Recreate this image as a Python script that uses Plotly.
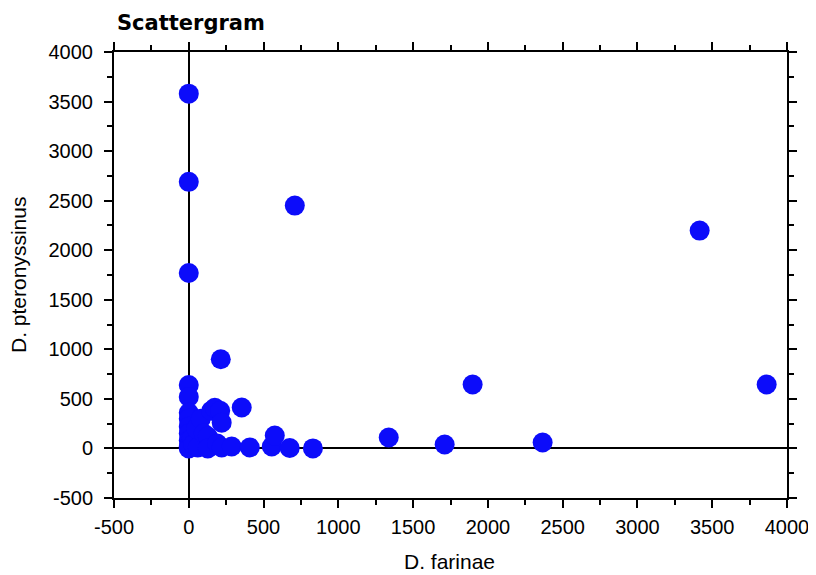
import plotly.graph_objects as go

d_farinae = [0, 0, 0, 0, 0, 0, 0, 0, 0, 0, 0, 0,
             20, 30, 50, 60, 80, 100, 127, 127, 150, 174, 190, 210, 220, 220,
             287, 354, 214, 408, 555, 575, 675, 830, 709, 1337, 1711, 2366,
             3416, 1898, 3864]
d_pteronyssinus = [3580, 2690, 1770, 640, 520, 360, 300, 220, 150, 80, 20, 0,
                   100, 40, 200, 10, 300, 150, 120, 0, 380, 410, 50, 380, 260, 10,
                   20, 413, 900, 10, 20, 130, 5, 0, 2450, 110, 40, 60,
                   2198, 645, 645]

tick_vals = [-500, 0, 500, 1000, 1500, 2000, 2500, 3000, 3500, 4000]
tick_text = [str(v) for v in tick_vals]
title_text = "Scattergram"
x_title = "D. farinae"
y_title = "D. pteronyssinus"

FONT = "Liberation Sans, Arial, sans-serif"

fig = go.Figure()
fig.add_trace(go.Scatter(
    x=d_farinae, y=d_pteronyssinus, mode="markers",
    marker=dict(size=20, color="rgb(12,12,250)", line=dict(width=0)),
    showlegend=False,
))

axis_common = dict(
    showgrid=False, automargin=False,
    zeroline=True, zerolinecolor="black", zerolinewidth=2,
    showline=True, linecolor="black", linewidth=2,
    mirror="allticks",
    ticks="outside", ticklen=8, tickwidth=2, tickcolor="black",
    minor=dict(ticks="outside", ticklen=5, tickwidth=1.5, tickcolor="black", dtick=250),
    tickvals=tick_vals, ticktext=tick_text,
    tickfont=dict(family=FONT, size=20, color="black"),
)

fig.update_xaxes(range=[-500, 4000], ticklabelstandoff=2, **axis_common)
fig.update_yaxes(range=[-500, 4000], ticklabelstandoff=7, **axis_common)

fig.update_layout(
    width=808, height=567,
    margin=dict(l=106, r=29, t=44, b=77),
    paper_bgcolor="white", plot_bgcolor="white",
    annotations=[
        dict(text="<b>" + title_text + "</b>", xref="paper", yref="paper", x=0, y=1.0,
             xanchor="left", yanchor="bottom", xshift=1, yshift=15, showarrow=False,
             font=dict(family="DejaVu Sans, sans-serif", size=21, color="black")),
        dict(text=x_title, xref="paper", yref="paper", x=0.499, y=0,
             xanchor="center", yanchor="middle", yshift=-63, showarrow=False,
             font=dict(family=FONT, size=21, color="black")),
        dict(text=y_title, xref="paper", yref="paper", x=0, y=0.5, textangle=-90,
             xanchor="center", yanchor="middle", xshift=-96, showarrow=False,
             font=dict(family=FONT, size=21, color="black")),
    ],
)

fig.write_html("out.html")
